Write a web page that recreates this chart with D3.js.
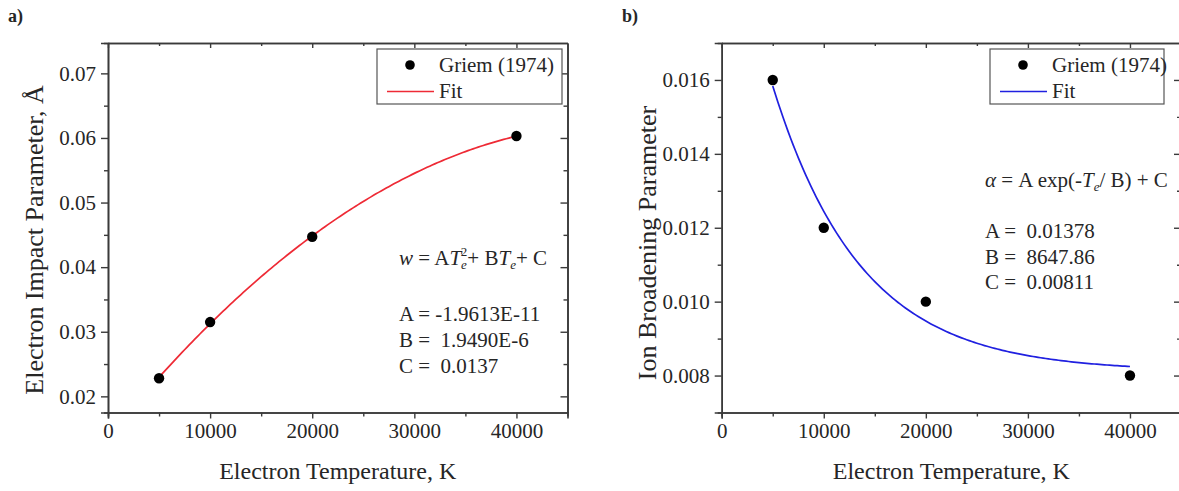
<!DOCTYPE html>
<html>
<head>
<meta charset="utf-8">
<script src="https://cdn.jsdelivr.net/npm/d3@7"></script>
<style>
  html, body { margin: 0; padding: 0; background: #fff; }
  svg text { font-family: "Liberation Serif", "Times New Roman", serif; fill: #262626; }
</style>
</head>
<body>
<svg id="chart" width="1179" height="491"></svg>
<script>
// Griem (1974) tabulated values
const temperatures = [5000, 10000, 20000, 40000];
const electronImpact = [0.0228, 0.0315, 0.0447, 0.0603];
const ionBroadening = [0.0160, 0.0120, 0.0100, 0.0080];

// Fit coefficients
const quadFit = { A: -1.9613e-11, B: 1.9490e-6, C: 0.0137 };
const expFit = { A: 0.01378, B: 8647.86, C: 0.00811 };

// Axis ticks
const xTicks = [0, 10000, 20000, 30000, 40000];
const yTicksA = [0.02, 0.03, 0.04, 0.05, 0.06, 0.07];
const yTicksB = [0.008, 0.010, 0.012, 0.014, 0.016];

const svg = d3.select("#chart");
const frameColor = "#3a3a3a";
const serif = '"Liberation Serif", "Times New Roman", serif';

function panel(cfg) {
  const x = d3.scaleLinear().domain([0, 45000]).range([cfg.left, cfg.right]);
  const y = d3.scaleLinear().domain(cfg.yDomain).range([cfg.bottom, cfg.top]);
  const g = svg.append("g");

  const xMinor = d3.range(5000, 45000, 10000);
  const yMinor = cfg.yMinor;

  // bottom axis (outward ticks)
  g.append("g").attr("transform", `translate(0,${cfg.bottom})`)
    .call(d3.axisBottom(x).tickValues(xTicks).tickSize(6).tickPadding(5).tickFormat(d3.format("d")));
  g.append("g").attr("transform", `translate(0,${cfg.bottom})`)
    .call(d3.axisBottom(x).tickValues(xMinor).tickSize(4).tickFormat(""));
  // left axis (outward ticks)
  g.append("g").attr("transform", `translate(${cfg.left},0)`)
    .call(d3.axisLeft(y).tickValues(cfg.yTicks).tickSize(7).tickPadding(5).tickFormat(d3.format(cfg.yFormat)));
  g.append("g").attr("transform", `translate(${cfg.left},0)`)
    .call(d3.axisLeft(y).tickValues(yMinor).tickSize(4).tickFormat(""));
  // top axis (inward ticks)
  g.append("g").attr("transform", `translate(0,${cfg.top})`)
    .call(d3.axisTop(x).tickValues(xTicks).tickSizeInner(-5).tickSizeOuter(0).tickFormat(""));
  g.append("g").attr("transform", `translate(0,${cfg.top})`)
    .call(d3.axisTop(x).tickValues(xMinor).tickSizeInner(-3).tickSizeOuter(0).tickFormat(""));
  // right axis (inward ticks)
  g.append("g").attr("transform", `translate(${cfg.right},0)`)
    .call(d3.axisRight(y).tickValues(cfg.yTicks).tickSizeInner(-7).tickSizeOuter(0).tickFormat(""));
  g.append("g").attr("transform", `translate(${cfg.right},0)`)
    .call(d3.axisRight(y).tickValues(yMinor).tickSizeInner(-4).tickSizeOuter(0).tickFormat(""));

  g.selectAll("g").attr("font-family", serif);
  g.selectAll(".domain").attr("stroke", frameColor).attr("stroke-width", 1.6);
  g.selectAll(".tick line").attr("stroke", frameColor).attr("stroke-width", 1.4);
  g.selectAll(".tick text").attr("font-size", 21).attr("fill", "#262626")
    .attr("font-family", serif).style("font-family", serif);

  // fit curve
  const samples = d3.range(5000, 40001, 250);
  const line = d3.line().x(d => x(d)).y(d => y(cfg.fit(d)));
  g.append("path").datum(samples).attr("d", line)
    .attr("fill", "none").attr("stroke", cfg.color).attr("stroke-width", 1.7);

  // data points
  g.selectAll("circle.pt").data(temperatures.map((t, i) => [t, cfg.values[i]]))
    .join("circle").attr("class", "pt")
    .attr("cx", d => x(d[0])).attr("cy", d => y(d[1])).attr("r", 5.2)
    .attr("fill", "#000");

  // axis titles
  g.append("text").attr("x", (cfg.left + cfg.right) / 2).attr("y", 479)
    .attr("text-anchor", "middle").attr("font-size", 24).text("Electron Temperature, K");
  g.append("text")
    .attr("transform", `translate(${cfg.yTitleX},${cfg.yTitleY}) rotate(-90)`)
    .attr("text-anchor", "middle").attr("font-size", 26).text(cfg.yTitle);

  // legend
  const lg = cfg.legend;
  g.append("rect").attr("x", lg.x).attr("y", 49).attr("width", lg.w).attr("height", 55)
    .attr("fill", "#fff").attr("stroke", "#555").attr("stroke-width", 1.2);
  g.append("circle").attr("cx", lg.x + 33).attr("cy", 65).attr("r", 4.8).attr("fill", "#000");
  g.append("line").attr("x1", lg.x + 10).attr("x2", lg.x + 57).attr("y1", 91.5).attr("y2", 91.5)
    .attr("stroke", cfg.color).attr("stroke-width", 1.7);
  g.append("text").attr("x", lg.x + 62).attr("y", 72).attr("font-size", 21).text("Griem (1974)");
  g.append("text").attr("x", lg.x + 62).attr("y", 98).attr("font-size", 21).text("Fit");

  // panel tag
  g.append("text").attr("x", cfg.tagX).attr("y", 22).attr("font-size", 18)
    .attr("font-weight", "bold").attr("fill", "#000").text(cfg.tag);

  return { g, x, y };
}

const pA = panel({
  left: 108, right: 567.5, top: 43, bottom: 412.5,
  yDomain: [0.0175, 0.0747], yTicks: yTicksA, yMinor: [0.025, 0.035, 0.045, 0.055, 0.065],
  yFormat: ".2f", values: electronImpact, color: "#ee2a35",
  fit: t => quadFit.A * t * t + quadFit.B * t + quadFit.C,
  yTitle: "Electron Impact Parameter, Å", yTitleX: 43, yTitleY: 240,
  legend: { x: 377, w: 185 }, tag: "a)", tagX: 8
});

const pB = panel({
  left: 721.7, right: 1181, top: 43, bottom: 412.5,
  yDomain: [0.007, 0.017], yTicks: yTicksB, yMinor: [0.009, 0.011, 0.013, 0.015],
  yFormat: ".3f", values: ionBroadening, color: "#2020e0",
  fit: t => expFit.A * Math.exp(-t / expFit.B) + expFit.C,
  yTitle: "Ion Broadening Parameter", yTitleX: 656, yTitleY: 243,
  legend: { x: 990, w: 174 }, tag: "b)", tagX: 622
});

// fit equations and coefficients
function addLines(g, x0, rows) {
  rows.forEach(r => {
    const t = g.append("text").attr("x", x0).attr("y", r.y).attr("font-size", 21);
    r.parts.forEach(p => {
      const s = t.append("tspan").text(p.t);
      if (p.i) s.attr("font-style", "italic");
      if (p.size) s.attr("font-size", p.size);
      if (p.dx) s.attr("dx", p.dx);
      if (p.dy) s.attr("dy", p.dy);
    });
  });
}

addLines(pA.g, 399, [
  { y: 265, parts: [
    { t: "w", i: true }, { t: " = A" }, { t: "T", i: true },
    { t: "e", i: true, size: 13, dy: 4 }, { t: "2", size: 13, dx: -6, dy: -13 }, { t: "+ B", dy: 9 },
    { t: "T", i: true }, { t: "e", i: true, size: 13, dy: 4 }, { t: "+ C", dy: -4 }
  ]},
  { y: 321, parts: [{ t: "A = -1.9613E-11" }] },
  { y: 347, parts: [{ t: "B =  1.9490E-6" }] },
  { y: 373, parts: [{ t: "C =  0.0137" }] }
]);

addLines(pB.g, 985, [
  { y: 187, parts: [
    { t: "α", i: true }, { t: " = A exp(-" }, { t: "T", i: true },
    { t: "e", i: true, size: 13, dy: 4 }, { t: "/ B) + C", dy: -4 }
  ]},
  { y: 238, parts: [{ t: "A =  0.01378" }] },
  { y: 264, parts: [{ t: "B =  8647.86" }] },
  { y: 289, parts: [{ t: "C =  0.00811" }] }
]);

// keep coefficient text spacing as typed
svg.selectAll("text").attr("xml:space", "preserve").style("white-space", "pre");
</script>
</body>
</html>
